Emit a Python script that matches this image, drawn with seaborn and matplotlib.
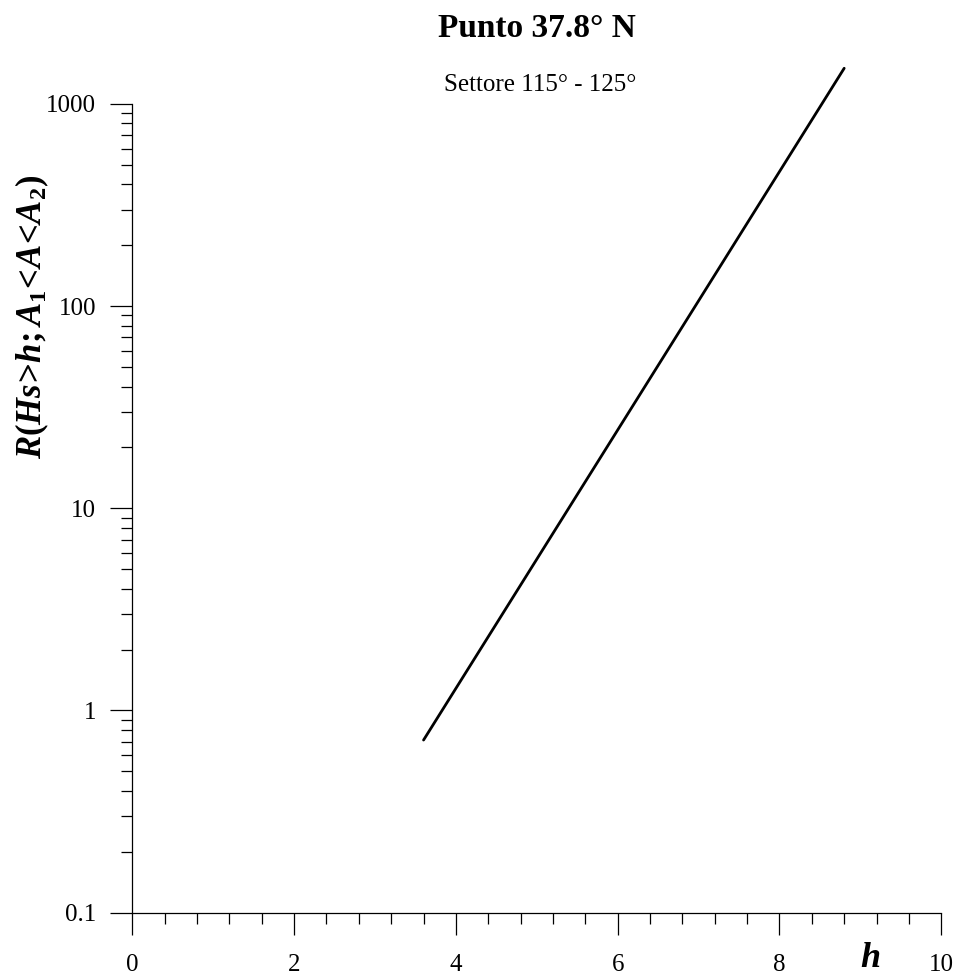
import numpy as np
import pandas as pd
import matplotlib
matplotlib.use("Agg")
import matplotlib.pyplot as plt
import matplotlib.ticker as mticker
import seaborn as sns

# data
h_values = [3.60, 8.80]
R_values = [0.714, 1500.0]
x_ticks = [0, 2, 4, 6, 8, 10]
y_ticks = [0.1, 1, 10, 100, 1000]
y_tick_labels = ["0.1", "1", "10", "100", "1000"]
title = "Punto 37.8° N"
subtitle = "Settore 115° - 125°"

sns.set_theme(style="ticks")
plt.rcParams['font.family'] = ['Liberation Serif', 'DejaVu Serif']
plt.rcParams['mathtext.fontset'] = 'custom'
plt.rcParams['mathtext.rm'] = 'Liberation Serif:bold'
plt.rcParams['mathtext.it'] = 'Liberation Serif:italic:bold'
plt.rcParams['mathtext.bf'] = 'Liberation Serif:bold'
plt.rcParams['text.color'] = 'black'
plt.rcParams['axes.labelcolor'] = 'black'
plt.rcParams['xtick.color'] = 'black'
plt.rcParams['ytick.color'] = 'black'

df = pd.DataFrame({"h": h_values, "R": R_values})

fig = plt.figure(figsize=(9.59, 9.76), dpi=100)
ax = fig.add_axes([0.138, 0.0649, 0.8435, 0.89])

sns.lineplot(data=df, x="h", y="R", color="black", linewidth=2.0, ax=ax)
ax.set_yscale("log")
ax.set_xlim(0, 10)
ax.set_ylim(0.1, 10 ** 3.296)

ax.spines["top"].set_visible(False)
ax.spines["right"].set_visible(False)
ax.spines["left"].set_bounds(0.1, 1000)
ax.spines["bottom"].set_bounds(0, 10)
for s in ("left", "bottom"):
    ax.spines[s].set_color("black")
    ax.spines[s].set_linewidth(0.9)

ax.set_xticks(x_ticks)
ax.set_xticklabels([str(v) for v in x_ticks])
ax.xaxis.set_minor_locator(mticker.MultipleLocator(0.4))
ax.set_yticks(y_ticks)
ax.set_yticklabels(y_tick_labels)
minor = [m * 10.0 ** e for e in range(-1, 3) for m in range(2, 10)]
ax.yaxis.set_minor_locator(mticker.FixedLocator(minor))
ax.yaxis.set_minor_formatter(mticker.NullFormatter())

ax.tick_params(axis="both", which="major", direction="out", length=16, width=0.9,
               color="black", labelsize=18, labelcolor="black")
ax.tick_params(axis="both", which="minor", direction="out", length=8, width=0.9, color="black")
ax.tick_params(axis="x", which="major", pad=14)
ax.tick_params(axis="y", which="major", pad=10)

ax.set_xlabel("h", fontsize=26, fontweight="bold", fontstyle="italic", color="black")
ax.xaxis.set_label_coords(0.912, -0.034)
ax.xaxis.label.set_verticalalignment("top")
ax.set_ylabel(r"$R(Hs\!>\!h;A_1\!<\!A\!<\!A_2)$", fontsize=25, color="black")
ax.yaxis.set_label_coords(-0.1007, 0.686)

fig.text(0.56, 0.971, title, ha="center", va="center", fontsize=24, fontweight="bold", color="black")
fig.text(0.563, 0.913, subtitle, ha="center", va="center", fontsize=18, color="black")

ax.grid(False)
fig.savefig("out.png", dpi=100)
